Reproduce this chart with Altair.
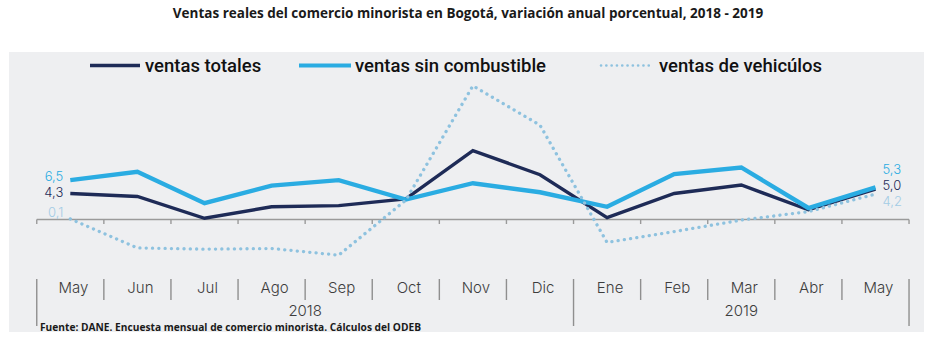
import altair as alt
import pandas as pd

# ---------------- data ----------------
meses = ["May", "Jun", "Jul", "Ago", "Sep", "Oct", "Nov", "Dic", "Ene", "Feb", "Mar", "Abr", "May"]
anios = ["2018", "2019"]
anio_primer_mes = [0, 8]      # index of the first month of each year
anio_ultimo_mes = [7, 12]     # index of the last month of each year

series = ["ventas totales", "ventas sin combustible", "ventas de vehicúlos"]
ventas_totales = [4.3, 3.8, 0.2, 2.1, 2.3, 3.4, 11.4, 7.4, 0.3, 4.3, 5.7, 1.6, 5.0]
ventas_sin_combustible = [6.5, 7.9, 2.7, 5.6, 6.5, 3.3, 6.0, 4.5, 2.1, 7.5, 8.6, 1.9, 5.3]
ventas_vehiculos = [0.1, -4.7, -4.9, -4.8, -5.9, 3.2, 22.1, 15.6, -3.8, -2.0, -0.1, 1.3, 4.2]

titulo = "Ventas reales del comercio minorista en Bogotá, variación anual porcentual, 2018 - 2019"
fuente = "Fuente: DANE. Encuesta mensual de comercio minorista. Cálculos del ODEB"

# ---------------- styles ----------------
colores = ["#1e2b57", "#2aace2", "#8ec2df"]
colores_etiqueta = ["#1e2b57", "#2aace2", "#a3cce5"]
FONT = "Inter"

valores = [ventas_totales, ventas_sin_combustible, ventas_vehiculos]
rows = []
for s, vals in zip(series, valores):
    for i, (m, v) in enumerate(zip(meses, vals)):
        rows.append({"idx": i, "mes": m, "serie": s, "valor": v,
                     "etiqueta": f"{v:.1f}".replace(".", ",")})
df = pd.DataFrame(rows)

n = len(meses)
limites = pd.DataFrame({"b": [i - 0.5 for i in range(n + 1)]})
largos = [0] + anio_primer_mes[1:] + [n]
limites["largo"] = [i in largos for i in range(n + 1)]
eje = pd.DataFrame({"x": [-0.5], "x2": [n - 0.5], "y": [0]})
meses_df = pd.DataFrame({"idx": list(range(n)), "mes": meses})
anios_df = pd.DataFrame({"anio": anios,
                         "centro": [(a + b) / 2 for a, b in zip(anio_primer_mes, anio_ultimo_mes)]})

xs = alt.Scale(domain=[-0.9136, 12.723], nice=False, zero=False)
ys = alt.Scale(domain=[-18.6, 27.69], nice=False, zero=False)

layers = []

# axis line
layers.append(alt.Chart(eje).mark_rule(color="#9a9a9a", strokeWidth=1.6).encode(
    x=alt.X("x:Q", scale=xs, axis=None), x2="x2:Q",
    y=alt.Y("y:Q", scale=ys, axis=None)))
# tick marks under the axis line
layers.append(alt.Chart(limites).mark_rule(color="#9a9a9a", strokeWidth=1.4).encode(
    x=alt.X("b:Q", scale=xs, axis=None),
    y=alt.value(167.5), y2=alt.value(172)))
# month separators
layers.append(alt.Chart(limites).transform_filter("!datum.largo").mark_rule(
    color="#8f8f8f", strokeWidth=1.4).encode(
    x=alt.X("b:Q", scale=xs, axis=None), y=alt.value(227), y2=alt.value(248)))
layers.append(alt.Chart(limites).transform_filter("datum.largo").mark_rule(
    color="#8f8f8f", strokeWidth=1.4).encode(
    x=alt.X("b:Q", scale=xs, axis=None), y=alt.value(227), y2=alt.value(274)))
# month labels
layers.append(alt.Chart(meses_df).mark_text(
    font=FONT, fontSize=15, fontWeight=300, color="#3d3d3d", baseline="middle", dx=3).encode(
    x=alt.X("idx:Q", scale=xs, axis=None), y=alt.value(235.5), text="mes:N"))
# year labels
layers.append(alt.Chart(anios_df).mark_text(
    font=FONT, fontSize=15, fontWeight=300, color="#3d3d3d", baseline="middle").encode(
    x=alt.X("centro:Q", scale=xs, axis=None), y=alt.value(259), text="anio:N"))

# lines
anchos = [3.4, 4.4, 3.3]
for k in [0, 1, 2]:
    s = series[k]
    base = alt.Chart(df).transform_filter(alt.datum.serie == s)
    if k == 2:
        mk = base.mark_line(color=colores[k], strokeWidth=anchos[k],
                            strokeDash=[0.1, 6.2], strokeCap="round")
    else:
        mk = base.mark_line(color=colores[k], strokeWidth=anchos[k], strokeJoin="miter")
    layers.append(mk.encode(x=alt.X("idx:Q", scale=xs, axis=None),
                            y=alt.Y("valor:Q", scale=ys, axis=None)))

# end labels
dy_izq = [0, -2.7, -6]
dy_der = [-3, -17, 7.5]
for k in range(3):
    s = series[k]
    layers.append(alt.Chart(df).transform_filter(
        (alt.datum.serie == s) & (alt.datum.idx == 0)).mark_text(
        font=FONT, fontSize=13, fontWeight=300, color=colores_etiqueta[k], align="right",
        baseline="middle", dx=-7, dy=dy_izq[k]).encode(
        x=alt.X("idx:Q", scale=xs, axis=None), y=alt.Y("valor:Q", scale=ys, axis=None),
        text="etiqueta:N"))
    layers.append(alt.Chart(df).transform_filter(
        (alt.datum.serie == s) & (alt.datum.idx == n - 1)).mark_text(
        font=FONT, fontSize=13, fontWeight=300, color=colores_etiqueta[k], align="left",
        baseline="middle", dx=7, dy=dy_der[k]).encode(
        x=alt.X("idx:Q", scale=xs, axis=None), y=alt.Y("valor:Q", scale=ys, axis=None),
        text="etiqueta:N"))

# legend (manual)
leg_linea_x = [(81, 131), (290, 342), (592, 642)]
leg_texto_x = [136, 346, 650]
leg_y = 13.5
for k in range(3):
    ldf = pd.DataFrame({"serie": [series[k]]})
    if k == 2:
        rule = alt.Chart(ldf).mark_rule(color=colores[k], strokeWidth=2.6,
                                        strokeDash=[0.1, 5.2], strokeCap="round")
    else:
        rule = alt.Chart(ldf).mark_rule(color=colores[k], strokeWidth=[3.4, 4.2][k])
    layers.append(rule.encode(x=alt.value(leg_linea_x[k][0]), x2=alt.value(leg_linea_x[k][1]),
                              y=alt.value(leg_y)))
    layers.append(alt.Chart(ldf).mark_text(
        font="Roboto", fontSize=18.5, fontWeight=500, color="#111111",
        align="left", baseline="middle").encode(
        x=alt.value(leg_texto_x[k]), y=alt.value(leg_y), text="serie:N"))

# title
layers.append(alt.Chart(pd.DataFrame({"t": [titulo]})).mark_text(
    font="Open Sans", fontSize=13.5, fontWeight="bold", color="#1a1a1a",
    align="center", baseline="middle").encode(
    x=alt.value(459), y=alt.value(-38), text="t:N"))
# source note
layers.append(alt.Chart(pd.DataFrame({"t": [fuente]})).mark_text(
    font="Open Sans", fontSize=10.2, fontWeight="bold", color="#1a1a1a",
    align="left", baseline="alphabetic").encode(
    x=alt.value(31), y=alt.value(279), text="t:N"))

chart = alt.layer(*layers).properties(
    width=915, height=280,
    autosize=alt.AutoSizeParams(type="none"),
    padding={"left": 9, "top": 52, "right": 12, "bottom": 8},
    background="white",
).configure_view(fill="#eeeff1", strokeWidth=0)

chart.save("out.html", embed_options={"renderer": "svg", "actions": False})
